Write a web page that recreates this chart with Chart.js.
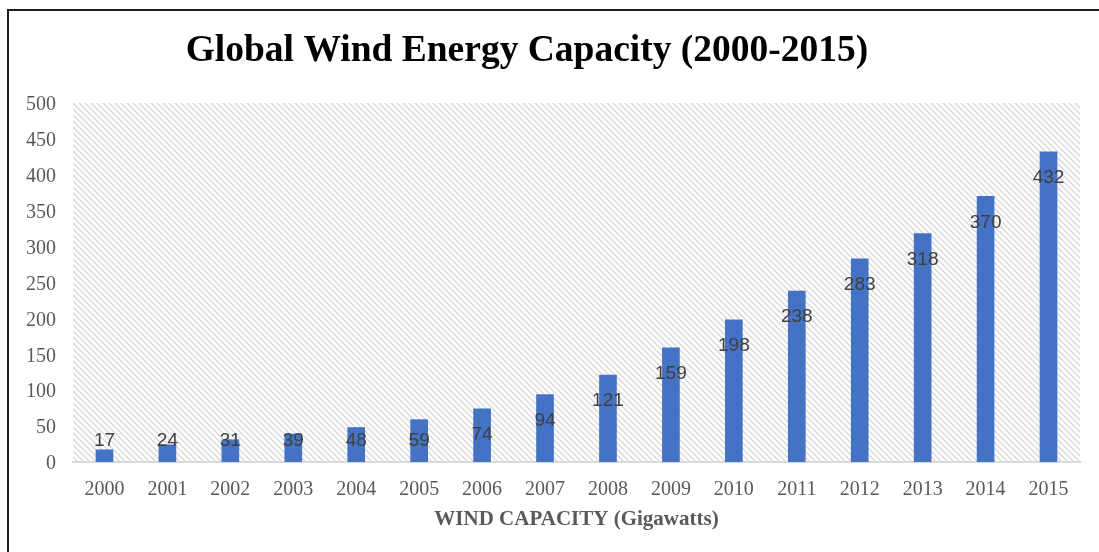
<!DOCTYPE html>
<html>
<head>
<meta charset="utf-8">
<script src="https://cdn.jsdelivr.net/npm/chart.js@4.4.1/dist/chart.umd.min.js"></script>
<style>
  html, body { margin: 0; padding: 0; background: #fff; }
  #wrap { position: relative; width: 1099px; height: 552px; }
</style>
</head>
<body>
<div id="wrap"><canvas id="windChart" width="1099" height="552"></canvas></div>
<script>
// Chart data
const years = ['2000', '2001', '2002', '2003', '2004', '2005', '2006', '2007',
               '2008', '2009', '2010', '2011', '2012', '2013', '2014', '2015'];
const capacity = [17, 24, 31, 39, 48, 59, 74, 94, 121, 159, 198, 238, 283, 318, 370, 432];
const yTicks = [0, 50, 100, 150, 200, 250, 300, 350, 400, 450, 500];

const chartTitle = 'Global Wind Energy Capacity (2000-2015)';
const axisTitle = 'WIND CAPACITY (Gigawatts)';

// diagonal hatch used as plot background
function makeHatch() {
  const c = document.createElement('canvas');
  c.width = 6; c.height = 6;
  const g = c.getContext('2d');
  g.strokeStyle = '#d6d6d6';
  g.lineWidth = 1.3;
  g.beginPath();
  g.moveTo(-1, -1); g.lineTo(7, 7);
  g.moveTo(-1, 5); g.lineTo(1, 7);
  g.moveTo(5, -1); g.lineTo(7, 1);
  g.stroke();
  return c;
}

const decor = {
  id: 'decor',
  beforeDraw(chart) {
    const { ctx, chartArea: a } = chart;
    ctx.save();
    ctx.fillStyle = ctx.createPattern(makeHatch(), 'repeat');
    ctx.fillRect(a.left, a.top, a.right - a.left, a.bottom - a.top);
    // frame lines (top + left)
    ctx.fillStyle = '#1e1e1e';
    ctx.fillRect(7, 9, chart.width - 7, 2);
    ctx.fillRect(7, 9, 2, chart.height - 9);
    ctx.restore();
  },
  afterDatasetsDraw(chart) {
    const { ctx } = chart;
    const meta = chart.getDatasetMeta(0);
    ctx.save();
    ctx.font = '19px "Liberation Sans", Arial, sans-serif';
    ctx.fillStyle = '#404040';
    ctx.textAlign = 'center';
    ctx.textBaseline = 'middle';
    meta.data.forEach((bar, i) => {
      const y = Math.min(bar.y + 26, bar.base - 21);
      ctx.fillText(String(capacity[i]), bar.x, y);
    });
    ctx.restore();
  },
  afterDraw(chart) {
    const { ctx } = chart;
    ctx.save();
    ctx.font = 'bold 37.5px "Liberation Serif", "Times New Roman", serif';
    ctx.fillStyle = '#000';
    ctx.textAlign = 'center';
    ctx.textBaseline = 'middle';
    ctx.fillText(chartTitle, 527, 51);
    ctx.restore();
  }
};

new Chart(document.getElementById('windChart'), {
  type: 'bar',
  data: {
    labels: years,
    datasets: [{
      label: 'Capacity',
      data: capacity,
      backgroundColor: '#4472C4',
      borderWidth: 0,
      barThickness: 17
    }]
  },
  options: {
    responsive: false,
    animation: false,
    layout: { padding: { top: 103, right: 19, left: 0, bottom: 0 } },
    plugins: { legend: { display: false }, tooltip: { enabled: false } },
    scales: {
      x: {
        grid: { display: false, drawTicks: false },
        border: { display: true, color: '#d9d9d9', width: 2 },
        ticks: { color: '#595959', padding: 16, font: { family: '"Liberation Serif", "Times New Roman", serif', size: 20 } },
        title: {
          display: true, text: axisTitle, color: '#595959',
          font: { family: '"Liberation Serif", "Times New Roman", serif', size: 21, weight: 'bold' },
          padding: { top: 0, bottom: 20 }
        },
        afterFit(s) { s.height = 90; }
      },
      y: {
        min: 0, max: 500,
        afterBuildTicks(s) { s.ticks = yTicks.map(v => ({ value: v })); },
        grid: { display: false, drawTicks: false },
        border: { display: false },
        ticks: { color: '#595959', padding: 17, labelOffset: 2, font: { family: '"Liberation Serif", "Times New Roman", serif', size: 20 } },
        afterFit(s) { s.width = 73; }
      }
    }
  },
  plugins: [decor]
});
</script>
</body>
</html>
